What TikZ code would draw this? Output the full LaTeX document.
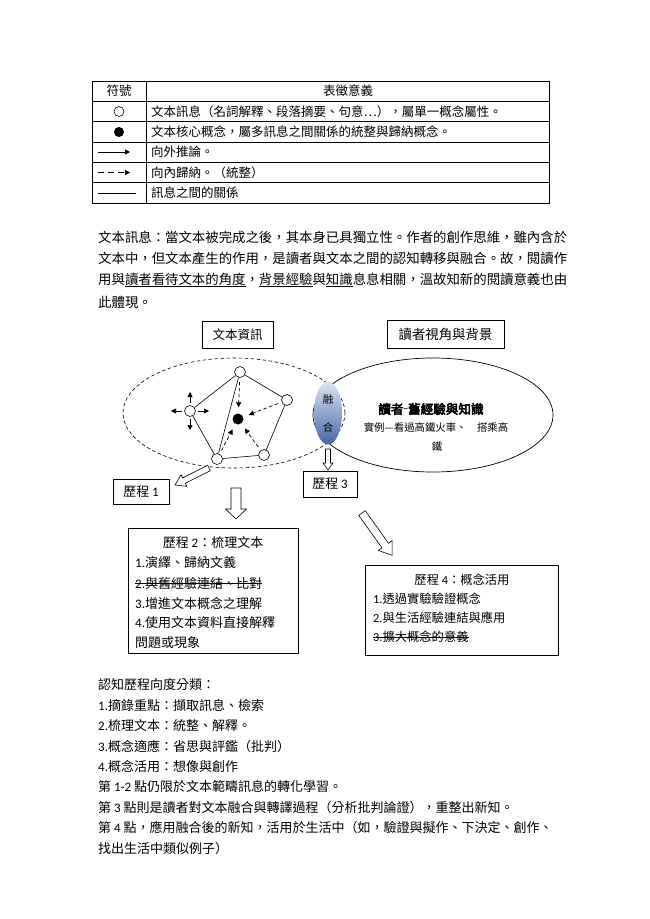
\documentclass[tikz,border=0pt]{standalone}
\usepackage{fontspec}
\setmainfont{Noto Sans CJK TC}
\newfontfamily\lat{Carlito}
\newfontfamily\cjkbold[FakeBold=4]{Noto Sans CJK TC}
\usetikzlibrary{arrows.meta,shapes.geometric}
\newcommand\fs[1]{\fontsize{#1}{#1}\selectfont}
\newcommand\strikeit[1]{{\setbox0\hbox{#1}\rlap{\rule[0.33em]{\wd0}{0.6pt}}\box0}}
\newcommand\ulx[1]{\underline{#1}}
\definecolor{lensTop}{HTML}{DCE4F1}
\definecolor{lensBot}{HTML}{4467A8}
% hollow block arrow: name, x, y, angle, length, half shaft, half head, head length
\newcommand\blockarrow[8]{%
  \coordinate (#1) at (#2,#3);
  \draw[hollow, shift={(#1)}, rotate=#4, x=1pt, y=1pt]
    (0,-#6) -- (#5-#8,-#6) -- (#5-#8,-#7) -- (#5,0) -- (#5-#8,#7) -- (#5-#8,#6) -- (0,#6) -- cycle;}
\begin{document}
\begin{tikzpicture}[x=1pt,y=-1pt,
  tx/.style={inner sep=0, anchor=west, font=\fs{#1}}, tx/.default=13,
  tc/.style={inner sep=0, anchor=center, font=\fs{#1}}, tc/.default=13,
  box/.style={draw, line width=0.6pt, inner sep=0, fill=white},
  tbl/.style={line width=0.6pt},
  circ/.style={circle, draw, line width=0.6pt, minimum size=11pt, inner sep=0, fill=white},
  dot/.style={circle, fill=black, minimum size=11pt, inner sep=0},
  link/.style={line width=0.6pt},
  dasharr/.style={line width=0.7pt, dash pattern=on 3.5pt off 2.5pt, -{Triangle[length=5pt,width=5pt]}, shorten <=4pt, shorten >=6pt},
  outarr/.style={line width=0.7pt, -{Triangle[length=5pt,width=5pt]}, shorten <=2pt},
  hollow/.style={draw, line width=0.6pt, fill=white}]
\path[use as bounding box, fill=white] (0,0) rectangle (650,919);

% ---------------- legend table ----------------
\draw[tbl] (92,81) rectangle (549,203);
\foreach \yy in {101.3,121.7,142,162.3,182.7} \draw[tbl] (92,\yy) -- (549,\yy);
\draw[tbl] (146,81) -- (146,203);
\node[tc=12.5] (h1) at (119,91) {符號};
\node[tc=12.5] (h2) at (348,91) {表徵意義};
\node[circ, minimum size=10pt] (lg1) at (119,111.5) {};
\node[dot, minimum size=10pt] (lg2) at (119,132) {};
\coordinate (lg3a) at (98,152); \coordinate (lg3b) at (130,152);
\draw[line width=0.7pt, -{Triangle[length=5pt,width=5pt]}] (lg3a) -- (lg3b);
\coordinate (lg4a) at (98,172.5); \coordinate (lg4b) at (130,172.5);
\draw[line width=0.7pt, dash pattern=on 6pt off 4pt, -{Triangle[length=5pt,width=5pt]}] (lg4a) -- (lg4b);
\coordinate (lg5a) at (98,193); \coordinate (lg5b) at (136,193);
\draw[line width=0.7pt] (lg5a) -- (lg5b);
\node[tx=12.5] (r1) at (151,111.5) {文本訊息（名詞解釋、段落摘要、句意…），屬單一概念屬性。};
\node[tx=12.5] (r2) at (151,132) {文本核心概念，屬多訊息之間關係的統整與歸納概念。};
\node[tx=12.5] (r3) at (151,152) {向外推論。};
\node[tx=12.5] (r4) at (151,172.5) {向內歸納。（統整）};
\node[tx=12.5] (r5) at (151,193) {訊息之間的關係};

% ---------------- paragraph ----------------
\node[tx=13.4] (p1) at (98,237) {文本訊息：當文本被完成之後，其本身已具獨立性。作者的創作思維，雖內含於};
\node[tx=13.4] (p2) at (98,258.5) {文本中，但文本產生的作用，是讀者與文本之間的認知轉移與融合。故，閱讀作};
\node[tx=13.4] (p3) at (98,280) {用與\ulx{讀者看待文本的角度}，\ulx{背景經驗}與\ulx{知識}息息相關，溫故知新的閱讀意義也由};
\node[tx=13.4] (p4) at (98,302) {此體現。};

% ---------------- diagram ----------------
\node[box, minimum width=71pt, minimum height=27pt, font=\fs{12.5}] (bText) at (237.5,334.5) {文本資訊};
\node[box, minimum width=117pt, minimum height=28pt, font=\fs{13.4}] (bReader) at (445.5,334) {讀者視角與背景};

\node[ellipse, draw, line width=0.6pt, dash pattern=on 3.5pt off 2.5pt, minimum width=222pt, minimum height=110pt, inner sep=0] (eText) at (234,413) {};
\node[ellipse, draw, line width=0.7pt, minimum width=240pt, minimum height=114pt, inner sep=0] (eReader) at (433,415) {};
\node[ellipse, top color=lensTop, bottom color=lensBot, minimum width=28pt, minimum height=63pt, inner sep=0] (lens) at (328,413) {};
\node[tc=10.5] (lens1) at (328,400) {融};
\node[tc=10.5] (lens2) at (328,427) {合};

\node[inner sep=0, font=\cjkbold\fs{12.6}] (rd1) at (431,409) {讀者\raisebox{0.15em}{\fs{9}\lat\textasciitilde}舊經驗與知識};
\node[tc=10.4] (rd2) at (436,428) {實例—看過高鐵火車、　搭乘高};
\node[tc=10.4] (rd3) at (437,447) {鐵};

% network
\node[circ] (nT) at (240,372) {};
\node[circ] (nR) at (287,400) {};
\node[circ] (nL) at (190,411) {};
\node[dot] (nC) at (238,419) {};
\node[circ] (nBL) at (217,459) {};
\node[circ] (nBR) at (264,455) {};
\draw[link] (nT) -- (nR);
\draw[link] (nT) -- (nL);
\draw[link] (nT) -- (nBL);
\draw[link] (nL) -- (nBL);
\draw[link] (nR) -- (nBR);
\draw[link] (nBL) -- (nBR);
\draw[dasharr] (nT) -- (nC);
\draw[dasharr] (nR) -- (nC);
\draw[dasharr] (nBL) -- (nC);
\draw[dasharr] (nBR) -- (nC);
\coordinate (lu) at (190,392);
\coordinate (ld) at (190,430);
\coordinate (ll) at (171,411);
\coordinate (lr) at (209,411);
\draw[outarr] (nL) -- (lu);
\draw[outarr] (nL) -- (ld);
\draw[outarr] (nL) -- (ll);
\draw[outarr] (nL) -- (lr);

% hollow block arrows
\blockarrow{a1}{209}{468}{-153.4}{38}{3}{6.5}{10}
\blockarrow{a2}{236}{488}{-90}{31}{5}{10.5}{10}
\blockarrow{a3}{328}{449}{-90}{21}{2.5}{5}{7}
\blockarrow{a4}{362}{513}{-54.5}{52}{4}{8.5}{12}

% process boxes
\node[box, minimum width=56pt, minimum height=25pt, font=\fs{13}] (p1box) at (141,491.5) {歷程 {\lat 1}};
\node[box, minimum width=54pt, minimum height=26pt, font=\fs{13}] (p3box) at (330,484) {歷程 {\lat 3}};

\node[box, minimum width=170pt, minimum height=125pt] (p2box) at (213,590.5) {};
\node[tc=13] (p2t) at (213,543) {歷程 {\lat 2}：梳理文本};
\node[tx=13] (p2a) at (135,563) {{\lat 1.}演繹、歸納文義};
\node[tx=13] (p2b) at (135,583) {\strikeit{{\lat 2.}與舊經驗連結、比對}};
\node[tx=13] (p2c) at (135,603) {{\lat 3.}增進文本概念之理解};
\node[tx=13] (p2d) at (135,623) {{\lat 4.}使用文本資料直接解釋};
\node[tx=13] (p2e) at (135,643) {問題或現象};

\node[box, minimum width=193pt, minimum height=90pt] (p4box) at (461.5,610) {};
\node[tc=12.3] (p4t) at (462,580) {歷程 {\lat 4}：概念活用};
\node[tx=12.3] (p4a) at (373,599) {{\lat 1.}透過實驗驗證概念};
\node[tx=12.3] (p4b) at (373,618) {{\lat 2.}與生活經驗連結與應用};
\node[tx=12.3] (p4c) at (373,637) {\strikeit{{\lat 3.}擴大概念的意義}};

% ---------------- bottom text ----------------
\node[tx=13] (b1) at (98,685) {認知歷程向度分類：};
\node[tx=13] (b2) at (98,705.4) {{\lat 1.}摘錄重點：擷取訊息、檢索};
\node[tx=13] (b3) at (98,725.8) {{\lat 2.}梳理文本：統整、解釋。};
\node[tx=13] (b4) at (98,746.2) {{\lat 3.}概念適應：省思與評鑑（批判）};
\node[tx=13] (b5) at (98,766.6) {{\lat 4.}概念活用：想像與創作};
\node[tx=13] (b6) at (98,787) {第{\lat\ 1-2 }點仍限於文本範疇訊息的轉化學習。};
\node[tx=13] (b7) at (98,807.4) {第{\lat\ 3 }點則是讀者對文本融合與轉譯過程（分析批判論證），重整出新知。};
\node[tx=13] (b8) at (98,827.8) {第{\lat\ 4 }點，應用融合後的新知，活用於生活中（如，驗證與擬作、下決定、創作、};
\node[tx=13] (b9) at (98,848.2) {找出生活中類似例子）};
\end{tikzpicture}
\end{document}
